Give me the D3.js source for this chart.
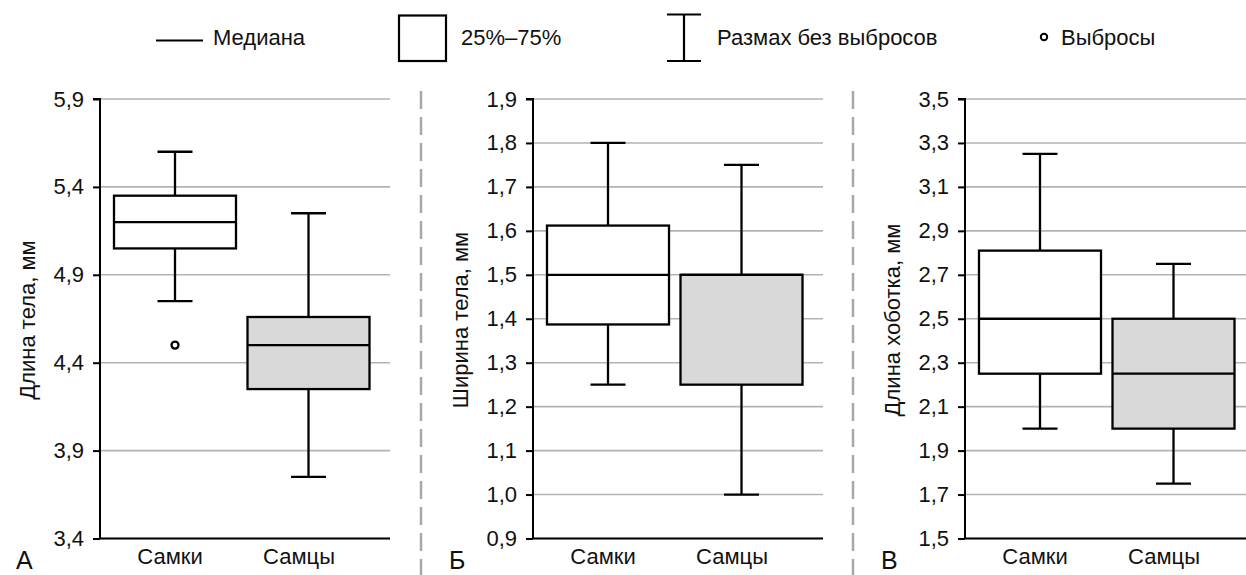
<!DOCTYPE html>
<html>
<head>
<meta charset="utf-8">
<script src="https://cdn.jsdelivr.net/npm/d3@7"></script>
<style>
  html, body { margin: 0; padding: 0; background: #fff; }
  svg { display: block; font-family: "Liberation Sans", Arial, sans-serif; }
</style>
</head>
<body>
<svg id="chart" width="1246" height="575"></svg>
<script>
// ---------- data ----------
const categories = ["Самки", "Самцы"];
const panelLetters = ["А", "Б", "В"];
const yTitles = ["Длина тела, мм", "Ширина тела, мм", "Длина хоботка, мм"];
const yDomains = [[3.4, 5.9], [0.9, 1.9], [1.5, 3.5]];
const yTicksA = [3.4, 3.9, 4.4, 4.9, 5.4, 5.9];
const yTicksB = [0.9, 1.0, 1.1, 1.2, 1.3, 1.4, 1.5, 1.6, 1.7, 1.8, 1.9];
const yTicksC = [1.5, 1.7, 1.9, 2.1, 2.3, 2.5, 2.7, 2.9, 3.1, 3.3, 3.5];
const yTicks = [yTicksA, yTicksB, yTicksC];

// box stats per panel: [Самки, Самцы]
const whiskerLow  = [[4.75, 3.75], [1.25, 1.00], [2.00, 1.75]];
const quartile1   = [[5.05, 4.25], [1.387, 1.25], [2.25, 2.00]];
const medians     = [[5.20, 4.50], [1.50, 1.50], [2.50, 2.25]];
const quartile3   = [[5.35, 4.66], [1.612, 1.50], [2.81, 2.50]];
const whiskerHigh = [[5.60, 5.25], [1.80, 1.75], [3.25, 2.75]];
const outliers    = [[[4.50], []], [[], []], [[], []]];

const legendLabels = ["Медиана", "25%–75%", "Размах без выбросов", "Выбросы"];

// ---------- layout ----------
const svg = d3.select("#chart");
const axisXs = [100, 533, 965];
const plotW = 290, plotTop = 99, plotBottom = 538.5;
const boxW = 122, capW = 35;
const boxFill = ["#ffffff", "#d9d9d9"];
const gridColor = "#b3b3b3";
const locale = d3.formatLocale({decimal: ",", thousands: " ", grouping: [3], currency: ["", ""]});
const fmt = locale.format(".1f");

const x = d3.scalePoint().domain(categories).range([75, 208.5]);
const xLabel = d3.scalePoint().domain(categories).range([70, 199]);

axisXs.forEach((ax, p) => {
  const g = svg.append("g").attr("transform", `translate(${ax},0)`);
  const y = d3.scaleLinear().domain(yDomains[p]).range([plotBottom, plotTop]);

  // grid
  g.append("g").selectAll("line").data(yTicks[p]).join("line")
    .attr("x1", 0).attr("x2", plotW)
    .attr("y1", d => y(d)).attr("y2", d => y(d))
    .attr("stroke", gridColor).attr("stroke-width", 1.6);

  // y axis
  const yAxis = d3.axisLeft(y).tickValues(yTicks[p]).tickFormat(fmt).tickSize(7).tickPadding(9);
  const ga = g.append("g").call(yAxis);
  ga.select(".domain").attr("stroke", "#000").attr("stroke-width", 2).attr("d", `M-7,${plotTop}H0V${plotBottom}`);
  ga.selectAll(".tick line").attr("stroke", "#000").attr("stroke-width", 2);
  ga.selectAll(".tick text").attr("font-size", 22).attr("fill", "#111")
    .attr("font-family", "'Liberation Sans', Arial, sans-serif");

  // x baseline
  g.append("line").attr("x1", 0).attr("x2", plotW).attr("y1", plotBottom).attr("y2", plotBottom)
    .attr("stroke", "#000").attr("stroke-width", 2);

  // boxes
  categories.forEach((c, i) => {
    const cx = x(c);
    const bg = g.append("g").attr("stroke", "#000").attr("stroke-width", 2.3).attr("fill", "none");
    bg.append("line").attr("x1", cx).attr("x2", cx)
      .attr("y1", y(whiskerHigh[p][i])).attr("y2", y(quartile3[p][i]));
    bg.append("line").attr("x1", cx).attr("x2", cx)
      .attr("y1", y(quartile1[p][i])).attr("y2", y(whiskerLow[p][i]));
    bg.append("line").attr("x1", cx - capW / 2).attr("x2", cx + capW / 2)
      .attr("y1", y(whiskerHigh[p][i])).attr("y2", y(whiskerHigh[p][i]));
    bg.append("line").attr("x1", cx - capW / 2).attr("x2", cx + capW / 2)
      .attr("y1", y(whiskerLow[p][i])).attr("y2", y(whiskerLow[p][i]));
    bg.append("rect").attr("x", cx - boxW / 2).attr("width", boxW)
      .attr("y", y(quartile3[p][i])).attr("height", y(quartile1[p][i]) - y(quartile3[p][i]))
      .attr("fill", boxFill[i]);
    bg.append("line").attr("x1", cx - boxW / 2).attr("x2", cx + boxW / 2)
      .attr("y1", y(medians[p][i])).attr("y2", y(medians[p][i]));
    bg.selectAll("circle").data(outliers[p][i]).join("circle")
      .attr("cx", cx).attr("cy", d => y(d)).attr("r", 3.5).attr("fill", "#fff");
  });

  // x labels
  g.append("g").selectAll("text").data(categories).join("text")
    .attr("x", d => xLabel(d)).attr("y", 564).attr("text-anchor", "middle")
    .attr("font-size", 22).attr("fill", "#111").text(d => d);

  // y title
  g.append("text").attr("transform", `translate(-65,320) rotate(-90)`)
    .attr("text-anchor", "middle").attr("font-size", 22).attr("fill", "#111")
    .text(yTitles[p]);

  // panel letter
  g.append("text").attr("x", -84).attr("y", 569).attr("font-size", 25).attr("fill", "#111")
    .text(panelLetters[p]);
});

// separators
[421, 853].forEach(sx => {
  svg.append("line").attr("x1", sx).attr("x2", sx).attr("y1", 91).attr("y2", 575)
    .attr("stroke", "#a8a8a8").attr("stroke-width", 2.5).attr("stroke-dasharray", "18,8");
});

// ---------- legend ----------
const lg = svg.append("g").attr("font-size", 22).attr("fill", "#111");
lg.append("line").attr("x1", 156).attr("x2", 203).attr("y1", 40.5).attr("y2", 40.5)
  .attr("stroke", "#000").attr("stroke-width", 2.2);
lg.append("text").attr("x", 213).attr("y", 45).text(legendLabels[0]);
lg.append("rect").attr("x", 399).attr("y", 15.5).attr("width", 47).attr("height", 45.5)
  .attr("fill", "#fff").attr("stroke", "#000").attr("stroke-width", 2.2);
lg.append("text").attr("x", 461).attr("y", 45).text(legendLabels[1]);
lg.append("line").attr("x1", 684).attr("x2", 684).attr("y1", 14.5).attr("y2", 61)
  .attr("stroke", "#000").attr("stroke-width", 2.2);
lg.append("line").attr("x1", 667).attr("x2", 701).attr("y1", 14.5).attr("y2", 14.5)
  .attr("stroke", "#000").attr("stroke-width", 2.2);
lg.append("line").attr("x1", 667).attr("x2", 701).attr("y1", 61).attr("y2", 61)
  .attr("stroke", "#000").attr("stroke-width", 2.2);
lg.append("text").attr("x", 717).attr("y", 45).text(legendLabels[2]);
lg.append("circle").attr("cx", 1044).attr("cy", 37).attr("r", 3.2)
  .attr("fill", "#fff").attr("stroke", "#000").attr("stroke-width", 2);
lg.append("text").attr("x", 1061).attr("y", 45).text(legendLabels[3]);
</script>
</body>
</html>
